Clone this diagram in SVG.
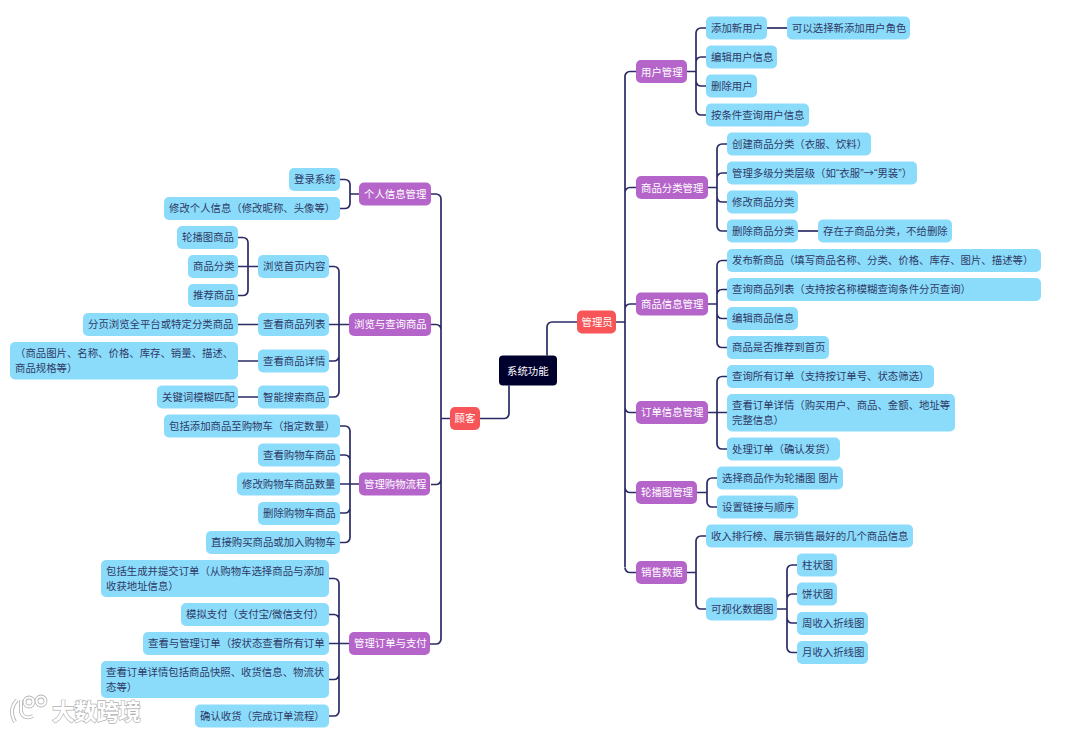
<svg xmlns="http://www.w3.org/2000/svg" width="1080" height="731" viewBox="0 0 1080 731">
<style>
text{font-family:"Liberation Sans","Noto Sans CJK SC",sans-serif;font-size:10.4px}
.l3 rect{fill:#8bdcfb}
.l3 text{fill:#2f3a66}
.l2 rect{fill:#b565c9}
.l2 text,.l1 text,.l0 text{fill:#fff}
.l1 rect{fill:#f75557}
.l0 rect{fill:#00002c}
#connectors path{fill:none;stroke:#2b2b66;stroke-width:1.7}
.cjk{font-family:"Noto Sans CJK SC",sans-serif}
#watermark text{font-size:22.500px;font-weight:700;fill:#fff;stroke:#b0b0b0;stroke-width:1.3px;paint-order:stroke;letter-spacing:-.3px}
#watermark path,#watermark circle{fill:none;stroke:#b4b4b4;stroke-width:3.8}
#watermark .in{stroke:#fff;stroke-width:2.2}
</style>
<rect width="1080" height="731" fill="#fff"/>
<g id="connectors">
<path d="M547 355.500V327a5 5 0 0 1 5-5H577"/>
<path d="M509 385.500V413.500a5 5 0 0 1-5 5H480"/>
<path d="M616 322H625M625 77V567M625 77a5 5 0 0 1 5-5.500H636M625 193a5 5 0 0 1 5-5.500H636M625 309a5 5 0 0 1 5-5H636M625 407.500a5 5 0 0 0 5 5H636M625 487.500a5 5 0 0 0 5 5H636M625 567.500a5 5 0 0 0 5 5H636"/>
<path d="M450 418.500H441M441 199V639.500M441 199a5 5 0 0 0-5-5H431M441 329.500a5 5 0 0 0-5-5H431M441 479.500a5 5 0 0 1-5 5H431M441 639a5 5 0 0 1-5 5H430"/>
<path d="M687 71.500H696M696 33V110M696 33a5 5 0 0 1 5-5H706M696 62a5 5 0 0 1 5-5H706M696 81a5 5 0 0 0 5 5H706M696 110a5 5 0 0 0 5 5H706"/>
<path d="M767 28H787"/>
<path d="M708 187.500H717M717 149V226M717 149a5 5 0 0 1 5-5H727M717 178a5 5 0 0 1 5-5H727M717 197a5 5 0 0 0 5 5H727M717 226a5 5 0 0 0 5 5H727"/>
<path d="M798 231H818"/>
<path d="M708 304H717M717 265.500V342.500M717 265.500a5 5 0 0 1 5-5H727M717 294.500a5 5 0 0 1 5-5H727M717 313.500a5 5 0 0 0 5 5H727M717 342.500a5 5 0 0 0 5 5H727"/>
<path d="M708 412.500H727M717 381.500V444M717 381.500a5 5 0 0 1 5-5H727M717 444a5 5 0 0 0 5 5H727"/>
<path d="M697 492.500H707M707 483a5 5 0 0 1 5-5H717M707 502a5 5 0 0 0 5 5H717M707 483V502"/>
<path d="M687 572.500H696M696 541V604M696 541a5 5 0 0 1 5-5H706M696 604a5 5 0 0 0 5 5H706"/>
<path d="M777 609H787M787 570V648M787 570a5 5 0 0 1 5-5H797M787 599a5 5 0 0 1 5-5H797M787 618a5 5 0 0 0 5 5H797M787 647.500a5 5 0 0 0 5 5H797"/>
<path d="M340 179.500H345a5 5 0 0 1 5 5V203.500a5 5 0 0 1-5 5H340M350 194H359"/>
<path d="M238 237.500H243a5 5 0 0 1 5 5V290.500a5 5 0 0 1-5 5H238M238 266.500H258"/>
<path d="M329 266.500H334a5 5 0 0 1 5 5V392a5 5 0 0 1-5 5H329M329 324.500H349M329 361H334a5 5 0 0 0 5-5"/>
<path d="M238 324.500H258M238 361H258M238 397H258"/>
<path d="M340 426H345a5 5 0 0 1 5 5V537.500a5 5 0 0 1-5 5H340M340 484H359M340 455H345a5 5 0 0 1 5 5M340 513H345a5 5 0 0 0 5-5"/>
<path d="M329 578.500H334a5 5 0 0 1 5 5V711a5 5 0 0 1-5 5H329M329 643.500H349M329 614.500H334a5 5 0 0 1 5 5M329 679.500H334a5 5 0 0 0 5-5"/>
</g>
<g id="root" class="l0"><rect x="499" y="355.500" width="58" height="30" rx="4"/><text x="507" y="374.800">系统功能</text></g>
<g id="admin" class="l1"><rect x="577" y="310.500" width="39" height="23" rx="5"/><text x="581.500" y="325.700">管理员</text></g>
<g id="customer" class="l1"><rect x="450" y="407" width="30" height="23" rx="5"/><text x="454.500" y="422.200">顾客</text></g>

<g id="n1" class="l2"><rect x="636" y="60" width="51" height="23" rx="5"/><text x="641" y="75.500">用户管理</text></g>
<g id="n2" class="l3"><rect x="706" y="16.500" width="61" height="23" rx="5"/><text x="711" y="31.700">添加新用户</text></g>
<g id="n3" class="l3"><rect x="787" y="16.500" width="123" height="23" rx="5"/><text x="792" y="31.700">可以选择新添加用户角色</text></g>
<g id="n4" class="l3"><rect x="706" y="45.500" width="71" height="23" rx="5"/><text x="711" y="60.700">编辑用户信息</text></g>
<g id="n5" class="l3"><rect x="706" y="74.500" width="51" height="23" rx="5"/><text x="711" y="89.700">删除用户</text></g>
<g id="n6" class="l3"><rect x="706" y="103.500" width="103" height="23" rx="5"/><text x="711" y="118.700">按条件查询用户信息</text></g>

<g id="n7" class="l2"><rect x="636" y="176" width="72" height="23" rx="5"/><text x="641" y="191.700">商品分类管理</text></g>
<g id="n8" class="l3"><rect x="727" y="132.500" width="144" height="23" rx="5"/><text x="732" y="147.700">创建商品分类（衣服、饮料）</text></g>
<g id="n9" class="l3"><rect x="727" y="161.500" width="190" height="23" rx="5"/><text x="732" y="176.700">管理多级分类层级（如“衣服”<tspan class="cjk">→</tspan>“男装”）</text></g>
<g id="n10" class="l3"><rect x="727" y="190.500" width="71" height="23" rx="5"/><text x="732" y="205.700">修改商品分类</text></g>
<g id="n11" class="l3"><rect x="727" y="219.500" width="71" height="23" rx="5"/><text x="732" y="234.700">删除商品分类</text></g>
<g id="n12" class="l3"><rect x="818" y="219.500" width="134" height="23" rx="5"/><text x="823" y="234.700">存在子商品分类，不给删除</text></g>

<g id="n13" class="l2"><rect x="636" y="292.500" width="72" height="23" rx="5"/><text x="641" y="307.700">商品信息管理</text></g>
<g id="n14" class="l3"><rect x="727" y="249" width="314" height="23" rx="5"/><text x="732" y="264.200">发布新商品（填写商品名称、分类、价格、库存、图片、描述等）</text></g>
<g id="n15" class="l3"><rect x="727" y="278" width="314" height="23" rx="5"/><text x="732" y="293.200">查询商品列表（支持按名称模糊查询条件分页查询）</text></g>
<g id="n16" class="l3"><rect x="727" y="307" width="71" height="23" rx="5"/><text x="732" y="322.200">编辑商品信息</text></g>
<g id="n17" class="l3"><rect x="727" y="336" width="102" height="23" rx="5"/><text x="732" y="351.200">商品是否推荐到首页</text></g>

<g id="n18" class="l2"><rect x="636" y="401" width="72" height="23" rx="5"/><text x="641" y="416.200">订单信息管理</text></g>
<g id="n19" class="l3"><rect x="727" y="365" width="207" height="23" rx="5"/><text x="732" y="380.200">查询所有订单（支持按订单号、状态筛选）</text></g>
<g id="n20" class="l3"><rect x="727" y="394" width="228" height="37.500" rx="5"/><text x="732" y="409.200">查看订单详情（购买用户、商品、金额、地址等</text><text x="732" y="423.600">完整信息）</text></g>
<g id="n21" class="l3"><rect x="727" y="437.500" width="113" height="23" rx="5"/><text x="732" y="452.700">处理订单（确认发货）</text></g>

<g id="n22" class="l2"><rect x="636" y="481" width="61" height="23" rx="5"/><text x="641" y="496.200">轮播图管理</text></g>
<g id="n23" class="l3"><rect x="717" y="466.500" width="126" height="23" rx="5"/><text x="722" y="481.700">选择商品作为轮播图 图片</text></g>
<g id="n24" class="l3"><rect x="717" y="495.500" width="81" height="23" rx="5"/><text x="722" y="510.700">设置链接与顺序</text></g>

<g id="n25" class="l2"><rect x="636" y="561" width="51" height="23" rx="5"/><text x="641" y="576.200">销售数据</text></g>
<g id="n26" class="l3"><rect x="706" y="524.500" width="207" height="23" rx="5"/><text x="711" y="539.700">收入排行榜、展示销售最好的几个商品信息</text></g>
<g id="n27" class="l3"><rect x="706" y="597.500" width="71" height="23" rx="5"/><text x="711" y="612.700">可视化数据图</text></g>
<g id="n28" class="l3"><rect x="797" y="553.500" width="40" height="23" rx="5"/><text x="802" y="568.700">柱状图</text></g>
<g id="n29" class="l3"><rect x="797" y="582.500" width="40" height="23" rx="5"/><text x="802" y="597.700">饼状图</text></g>
<g id="n30" class="l3"><rect x="797" y="612" width="71" height="23" rx="5"/><text x="802" y="627.200">周收入折线图</text></g>
<g id="n31" class="l3"><rect x="797" y="641" width="71" height="23" rx="5"/><text x="802" y="656.200">月收入折线图</text></g>

<g id="n32" class="l2"><rect x="359" y="182.500" width="72" height="23" rx="5"/><text x="364" y="197.700">个人信息管理</text></g>
<g id="n33" class="l3"><rect x="289" y="168" width="51" height="23" rx="5"/><text x="294" y="183.200">登录系统</text></g>
<g id="n34" class="l3"><rect x="164" y="197" width="176" height="23" rx="5"/><text x="169" y="212.200">修改个人信息（修改昵称、头像等）</text></g>

<g id="n35" class="l2"><rect x="349" y="313" width="82" height="23" rx="5"/><text x="354" y="328.200">浏览与查询商品</text></g>
<g id="n36" class="l3"><rect x="258" y="255" width="71" height="23" rx="5"/><text x="263" y="270.200">浏览首页内容</text></g>
<g id="n37" class="l3"><rect x="177" y="226" width="61" height="23" rx="5"/><text x="182" y="241.200">轮播图商品</text></g>
<g id="n38" class="l3"><rect x="188" y="255" width="50" height="23" rx="5"/><text x="193" y="270.200">商品分类</text></g>
<g id="n39" class="l3"><rect x="188" y="284" width="50" height="23" rx="5"/><text x="193" y="299.200">推荐商品</text></g>
<g id="n40" class="l3"><rect x="258" y="313" width="71" height="23" rx="5"/><text x="263" y="328.200">查看商品列表</text></g>
<g id="n41" class="l3"><rect x="83" y="313" width="155" height="23" rx="5"/><text x="88" y="328.200">分页浏览全平台或特定分类商品</text></g>
<g id="n42" class="l3"><rect x="258" y="349.500" width="71" height="23" rx="5"/><text x="263" y="364.700">查看商品详情</text></g>
<g id="n43" class="l3"><rect x="10" y="342" width="228" height="37.500" rx="5"/><text x="15" y="357.200">（商品图片、名称、价格、库存、销量、描述、</text><text x="15" y="371.600">商品规格等）</text></g>
<g id="n44" class="l3"><rect x="258" y="385.500" width="71" height="23" rx="5"/><text x="263" y="400.700">智能搜索商品</text></g>
<g id="n45" class="l3"><rect x="157" y="385.500" width="81" height="23" rx="5"/><text x="162" y="400.700">关键词模糊匹配</text></g>

<g id="n46" class="l2"><rect x="359" y="472.500" width="71" height="23" rx="5"/><text x="364" y="487.700">管理购物流程</text></g>
<g id="n47" class="l3"><rect x="164" y="414.500" width="176" height="23" rx="5"/><text x="169" y="429.700">包括添加商品至购物车（指定数量）</text></g>
<g id="n48" class="l3"><rect x="258" y="443.500" width="82" height="23" rx="5"/><text x="263" y="458.700">查看购物车商品</text></g>
<g id="n49" class="l3"><rect x="237" y="472.500" width="103" height="23" rx="5"/><text x="242" y="487.700">修改购物车商品数量</text></g>
<g id="n50" class="l3"><rect x="258" y="502" width="82" height="23" rx="5"/><text x="263" y="517.200">删除购物车商品</text></g>
<g id="n51" class="l3"><rect x="206" y="531" width="134" height="23" rx="5"/><text x="211" y="546.200">直接购买商品或加入购物车</text></g>

<g id="n52" class="l2"><rect x="349" y="632" width="81" height="23" rx="5"/><text x="354" y="647.200">管理订单与支付</text></g>
<g id="n53" class="l3"><rect x="101" y="560" width="228" height="37" rx="5"/><text x="106" y="575.200">包括生成并提交订单（从购物车选择商品与添加</text><text x="106" y="589.600">收获地址信息）</text></g>
<g id="n54" class="l3"><rect x="181" y="603" width="148" height="23" rx="5"/><text x="186" y="618.200">模拟支付（支付宝/微信支付）</text></g>
<g id="n55" class="l3"><rect x="143" y="632" width="186" height="23" rx="5"/><text x="148" y="647.200">查看与管理订单（按状态查看所有订单</text></g>
<g id="n56" class="l3"><rect x="101" y="661" width="228" height="37" rx="5"/><text x="106" y="676.200">查看订单详情包括商品快照、收货信息、物流状</text><text x="106" y="690.600">态等）</text></g>
<g id="n57" class="l3"><rect x="195" y="704.500" width="134" height="23" rx="5"/><text x="200" y="719.700">确认收货（完成订单流程）</text></g>

<g id="watermark">
<path d="M17 700Q8 710 15 722"/><path d="M21 700V712Q24 720 33 716"/><circle cx="29" cy="702" r="4.500"/><circle cx="41" cy="701" r="4.500"/>
<path class="in" d="M17 700Q8 710 15 722"/><path class="in" d="M21 700V712Q24 720 33 716"/><circle class="in" cx="29" cy="702" r="4.500"/><circle class="in" cx="41" cy="701" r="4.500"/>
<text x="52" y="720">大数跨境</text>
</g>
</svg>
